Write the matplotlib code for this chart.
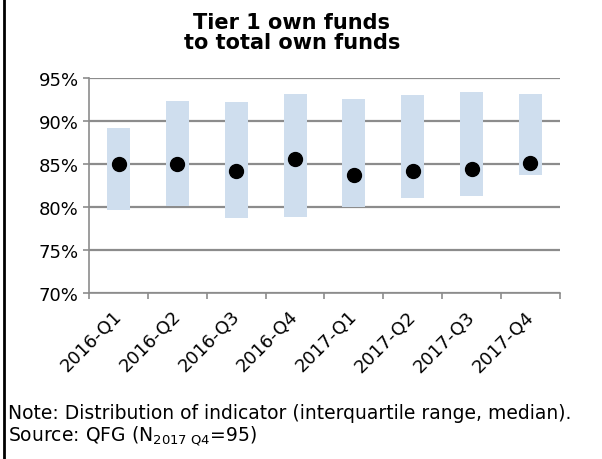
import matplotlib.pyplot as plt
from matplotlib.lines import Line2D
from matplotlib.transforms import ScaledTranslation

quarters = ['2016-Q1', '2016-Q2', '2016-Q3', '2016-Q4',
            '2017-Q1', '2017-Q2', '2017-Q3', '2017-Q4']
q1 = [79.6, 80.1, 78.7, 78.8, 80.0, 81.1, 81.3, 83.7]
q3 = [89.2, 92.3, 92.2, 93.1, 92.6, 93.0, 93.4, 93.2]
median = [85.0, 85.05, 84.2, 85.6, 83.7, 84.2, 84.4, 85.1]

plt.rcParams['font.family'] = 'DejaVu Sans'
fig = plt.figure(figsize=(6.02, 4.6), dpi=100)
ax = fig.add_axes([0.148, 0.361, 0.782, 0.467])

x = list(range(len(quarters)))
heights = [b - a for a, b in zip(q1, q3)]
ax.bar(x, heights, bottom=q1, width=0.39, color='#cfdeee', zorder=2)
ax.plot(x, median, 'o', color='black', markersize=10, zorder=3)

ax.set_ylim(70, 95)
ax.set_xlim(-0.5, len(quarters) - 0.5)
ax.set_yticks([70, 75, 80, 85, 90, 95])
ax.set_yticklabels([f'{v}%' for v in [70, 75, 80, 85, 90, 95]], fontsize=13)
ax.yaxis.grid(True, color='#8c8c8c', linewidth=1.6, zorder=1)
ax.set_axisbelow(True)

ax.set_xticks(x)
ax.set_xticklabels(quarters, rotation=45, ha='right', rotation_mode='anchor', fontsize=13)
ax.tick_params(axis='x', length=0, pad=10)
shift = ScaledTranslation(-0.06, 0, fig.dpi_scale_trans)
for lbl in ax.get_xticklabels():
    lbl.set_transform(lbl.get_transform() + shift)
ax.set_xticks([i - 0.5 for i in range(len(quarters) + 1)], minor=True)
ax.tick_params(axis='x', which='minor', length=4.5, color='#8c8c8c', width=1.2)
ax.tick_params(axis='y', length=4.5, color='#8c8c8c', width=1.2, pad=3)

for s in ['top', 'right']:
    ax.spines[s].set_visible(False)
for s in ['left', 'bottom']:
    ax.spines[s].set_color('#8c8c8c')
    ax.spines[s].set_linewidth(1.2)

fig.text(0.485, 0.972, 'Tier 1 own funds\nto total own funds', ha='center', va='top',
         fontsize=15, fontweight='bold', linespacing=1.02)

fig.text(0.013, 0.1, 'Note: Distribution of indicator (interquartile range, median).',
         fontsize=13.5, va='center')
fig.text(0.013, 0.052, r'Source: QFG (N$_{\mathregular{2017\ Q4}}$=95)',
         fontsize=13.5, va='center')

fig.add_artist(Line2D([0.007, 0.007], [0, 1], transform=fig.transFigure,
                      color='black', linewidth=2))

fig.savefig('out.png', dpi=100)
